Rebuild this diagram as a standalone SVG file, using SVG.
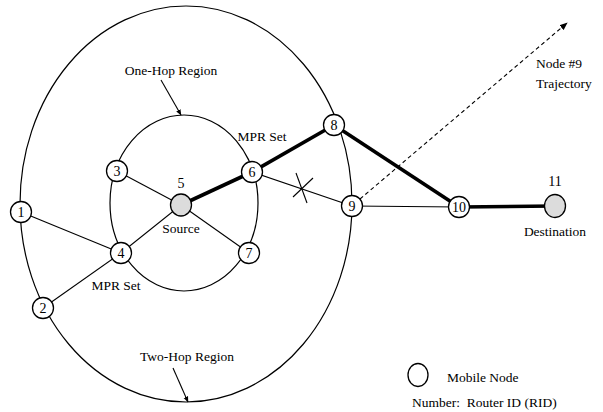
<svg xmlns="http://www.w3.org/2000/svg" width="603" height="412" viewBox="0 0 603 412">
<style>
text{font-family:"Liberation Serif","Times New Roman",serif;fill:#000}
.lbl{font-size:13.5px}
.num{font-size:14px;text-anchor:middle;dominant-baseline:central}
.region{fill:none;stroke:#000;stroke-width:1.2}
.thin{stroke:#000;stroke-width:1.1;fill:none}
.thick{stroke:#000;stroke-width:3.6;fill:none}
.node{fill:#fff;stroke:#000;stroke-width:1.3}
.gray{fill:#dcdcdc;stroke:#000;stroke-width:1.3}
</style>
<defs>
<marker id="ah" viewBox="0 0 10 10" refX="9" refY="5" markerWidth="6" markerHeight="6" orient="auto" markerUnits="userSpaceOnUse">
<path d="M0,1 L10,5 L0,9 z" fill="#000"/>
</marker>
<marker id="ah2" viewBox="0 0 10 10" refX="9" refY="5" markerWidth="8" markerHeight="8" orient="auto" markerUnits="userSpaceOnUse">
<path d="M0,1 L10,5 L0,9 z" fill="#000"/>
</marker>
</defs>
<g id="regions">
<ellipse class="region" cx="186" cy="204" rx="166" ry="198"/>
<ellipse class="region" cx="184" cy="203" rx="74" ry="88"/>
</g>
<g id="connectors">
<line class="thin" x1="21" y1="212" x2="121" y2="253"/>
<line class="thin" x1="43" y1="308" x2="121" y2="253"/>
<line class="thin" x1="117" y1="171" x2="181" y2="205"/>
<line class="thin" x1="121" y1="253" x2="181" y2="205"/>
<line class="thin" x1="181" y1="205" x2="249" y2="253"/>
<line class="thin" x1="252" y1="172" x2="352" y2="206"/>
<line class="thin" x1="352" y1="206" x2="459" y2="207"/>
<line class="thick" x1="181" y1="205" x2="252" y2="172"/>
<line class="thick" x1="252" y1="172" x2="334" y2="125"/>
<line class="thick" x1="334" y1="125" x2="459" y2="207"/>
<line class="thick" x1="459" y1="207" x2="555" y2="206"/>
<line class="thin" x1="293" y1="197" x2="313" y2="178"/>
<line class="thin" x1="296" y1="173" x2="307" y2="203"/>
<line class="thin" x1="360" y1="199" x2="567" y2="23" stroke-dasharray="4,3" marker-end="url(#ah2)"/>
<line class="thin" x1="161" y1="80" x2="181" y2="115" marker-end="url(#ah)"/>
<line class="thin" x1="173" y1="368" x2="188" y2="402" marker-end="url(#ah)"/>
</g>
<g id="n1"><circle class="node" cx="21" cy="212" r="10.5"/><text class="num" x="21" y="212">1</text></g>
<g id="n2"><circle class="node" cx="43" cy="308" r="10.5"/><text class="num" x="43" y="308">2</text></g>
<g id="n3"><circle class="node" cx="117" cy="171" r="10.5"/><text class="num" x="117" y="171">3</text></g>
<g id="n4"><circle class="node" cx="121" cy="253" r="10.5"/><text class="num" x="121" y="253">4</text></g>
<g id="n5"><ellipse class="gray" cx="181" cy="205" rx="10.5" ry="11"/><text class="num" x="181" y="183">5</text><text class="lbl" x="181" y="233" text-anchor="middle">Source</text></g>
<g id="n6"><circle class="node" cx="252" cy="172" r="10.5"/><text class="num" x="252" y="172">6</text></g>
<g id="n7"><circle class="node" cx="249" cy="253" r="10.5"/><text class="num" x="249" y="253">7</text></g>
<g id="n8"><circle class="node" cx="334" cy="125" r="10.5"/><text class="num" x="334" y="125">8</text></g>
<g id="n9"><circle class="node" cx="352" cy="206" r="10.5"/><text class="num" x="352" y="206">9</text></g>
<g id="n10"><circle class="node" cx="459" cy="207" r="10.5"/><text class="num" x="459" y="207">10</text></g>
<g id="n11"><ellipse class="gray" cx="555" cy="206" rx="10.5" ry="11.5"/><text class="num" x="555" y="181">11</text><text class="lbl" x="555" y="236" text-anchor="middle">Destination</text></g>
<g id="labels">
<text class="lbl" x="171" y="75" text-anchor="middle">One-Hop Region</text>
<text class="lbl" x="262" y="141" text-anchor="middle">MPR Set</text>
<text class="lbl" x="116" y="290" text-anchor="middle">MPR Set</text>
<text class="lbl" x="187" y="361" text-anchor="middle">Two-Hop Region</text>
<text class="lbl" x="536" y="68">Node #9</text>
<text class="lbl" x="536" y="88">Trajectory</text>
</g>
<g id="legend">
<ellipse class="node" cx="418" cy="375" rx="10" ry="11.5"/>
<text class="lbl" x="447" y="382">Mobile Node</text>
<text class="lbl" x="412" y="407" xml:space="preserve">Number:  Router ID (RID)</text>
</g>
</svg>
